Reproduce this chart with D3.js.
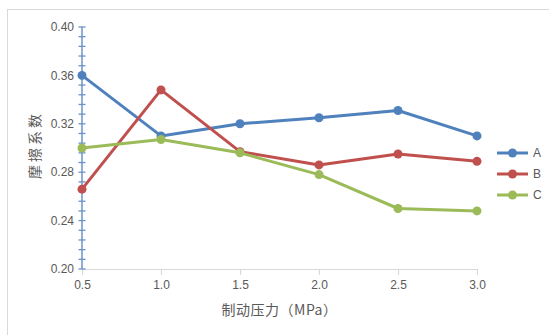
<!DOCTYPE html>
<html>
<head>
<meta charset="utf-8">
<script src="https://cdn.jsdelivr.net/npm/d3@7"></script>
<style>
  html, body { margin: 0; padding: 0; background: #fff; }
  svg { display: block; }
</style>
</head>
<body>
<svg id="chart" width="549" height="335"></svg>
<script>
// Braking pressure (MPa) on the x axis
const pressures = [0.5, 1.0, 1.5, 2.0, 2.5, 3.0];
// Friction coefficient for each sample
const seriesA = [0.360, 0.310, 0.320, 0.325, 0.331, 0.310];
const seriesB = [0.266, 0.348, 0.297, 0.286, 0.295, 0.289];
const seriesC = [0.300, 0.307, 0.296, 0.278, 0.250, 0.248];
const seriesNames = ["A", "B", "C"];
const seriesColors = ["#4f81bd", "#c0504d", "#9bbb59"];
const xTicks = [0.5, 1.0, 1.5, 2.0, 2.5, 3.0];
const yTicks = [0.20, 0.24, 0.28, 0.32, 0.36, 0.40];
const xTitle = "制动压力（MPa）";
const yTitle = "摩擦系数";

const svg = d3.select("#chart");
const font = "'Liberation Sans', 'Noto Sans CJK SC', sans-serif";
const cjkFont = "'Noto Sans CJK SC', sans-serif";
const textColor = "#595959";

// outer chart frame
svg.append("rect")
  .attr("x", 7.5).attr("y", 9.5)
  .attr("width", 560).attr("height", 340)
  .attr("fill", "none").attr("stroke", "#d9d9d9").attr("stroke-width", 1);

const x = d3.scaleLinear().domain([0.5, 3.0]).range([82, 477]);
const y = d3.scaleLinear().domain([0.20, 0.40]).range([269, 27]);

// x axis
const xAxis = d3.axisBottom(x)
  .tickValues(xTicks)
  .tickFormat(d3.format(".1f"))
  .tickSizeInner(6).tickSizeOuter(0).tickPadding(5);
const gx = svg.append("g").attr("transform", `translate(0,${y(0.20)})`).call(xAxis);
gx.select(".domain").attr("stroke", "#d9d9d9").attr("stroke-width", 1.2);
gx.selectAll(".tick line").attr("stroke", "#d9d9d9").attr("stroke-width", 1.2);
gx.selectAll(".tick text")
  .attr("fill", textColor).style("font-family", font).style("font-size", "12px");

// y axis with crossing major and minor ticks
const minorTicks = d3.range(0, 26).map(i => 0.20 + i * 0.008);
const gy = svg.append("g").attr("transform", `translate(${x(0.5)},0)`);
gy.append("line")
  .attr("x1", 0).attr("x2", 0).attr("y1", y(0.40)).attr("y2", y(0.20))
  .attr("stroke", "#6b93c9").attr("stroke-width", 1.5);
gy.selectAll("line.minor").data(minorTicks).join("line")
  .attr("class", "minor")
  .attr("x1", -3.5).attr("x2", 3.5)
  .attr("y1", d => y(d)).attr("y2", d => y(d))
  .attr("stroke", "#6b93c9").attr("stroke-width", 1.3);
gy.selectAll("text").data(yTicks).join("text")
  .attr("x", -8).attr("y", d => y(d)).attr("dy", "0.35em")
  .attr("text-anchor", "end")
  .attr("fill", textColor).style("font-family", font).style("font-size", "12px")
  .text(d3.format(".2f"));

// series lines and markers
const allSeries = [seriesA, seriesB, seriesC];
const line = d3.line().x((d, i) => x(pressures[i])).y(d => y(d));
allSeries.forEach((vals, k) => {
  svg.append("path").datum(vals)
    .attr("d", line).attr("fill", "none")
    .attr("stroke", seriesColors[k]).attr("stroke-width", 3)
    .attr("stroke-linejoin", "round");
  svg.selectAll(null).data(vals).join("circle")
    .attr("cx", (d, i) => x(pressures[i])).attr("cy", d => y(d))
    .attr("r", 4.5).attr("fill", seriesColors[k]);
});

// legend
const legend = svg.append("g");
seriesNames.forEach((name, k) => {
  const ly = 153 + k * 21;
  legend.append("line")
    .attr("x1", 497).attr("x2", 528).attr("y1", ly).attr("y2", ly)
    .attr("stroke", seriesColors[k]).attr("stroke-width", 3);
  legend.append("circle").attr("cx", 512.5).attr("cy", ly).attr("r", 4.5)
    .attr("fill", seriesColors[k]);
  legend.append("text").attr("x", 533).attr("y", ly).attr("dy", "0.35em")
    .attr("fill", textColor).style("font-family", font).style("font-size", "12px")
    .text(name);
});

// axis titles
svg.append("text")
  .attr("x", (x(0.5) + x(3.0)) / 2).attr("y", 315)
  .attr("text-anchor", "middle")
  .attr("fill", textColor).style("font-family", cjkFont).style("font-size", "14px")
  .style("letter-spacing", "0.5px")
  .text(xTitle);
svg.append("text")
  .attr("transform", `translate(40,145) rotate(-90)`)
  .attr("text-anchor", "middle")
  .attr("fill", textColor).style("font-family", cjkFont).style("font-size", "14px")
  .style("letter-spacing", "3px")
  .text(yTitle);
</script>
</body>
</html>
